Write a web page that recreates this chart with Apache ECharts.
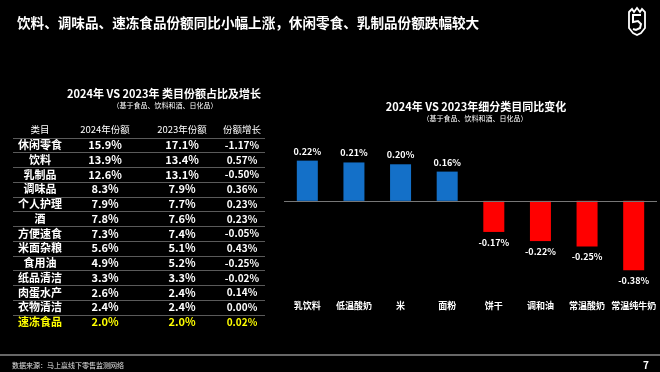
<!DOCTYPE html>
<html><head><meta charset="utf-8">
<script src="https://cdn.jsdelivr.net/npm/echarts@6/dist/echarts.min.js"></script>
<style>html,body{margin:0;padding:0;background:#000;}#c{width:660px;height:372px;}</style>
</head><body><div id="c"></div>
<script>
// ---- data ----
var barCategories = ['乳饮料','低温酸奶','米','面粉','饼干','调和油','常温酸奶','常温纯牛奶'];
var barValues = [0.22, 0.21, 0.20, 0.16, -0.17, -0.22, -0.25, -0.38];
var tableHeader = ['类目','2024年份额','2023年份额','份额增长'];
var tableCats = ['休闲零食','饮料','乳制品','调味品','个人护理','酒','方便速食','米面杂粮','食用油','纸品清洁','肉蛋水产','衣物清洁','速冻食品'];
var share2024 = ['15.9%','13.9%','12.6%','8.3%','7.9%','7.8%','7.3%','5.6%','4.9%','3.3%','2.6%','2.4%','2.0%'];
var share2023 = ['17.1%','13.4%','13.1%','7.9%','7.7%','7.6%','7.4%','5.1%','5.2%','3.3%','2.4%','2.4%','2.0%'];
var shareGrowth = ['-1.17%','0.57%','-0.50%','0.36%','0.23%','0.23%','-0.05%','0.43%','-0.25%','-0.02%','0.14%','0.00%','0.02%'];
var mainTitle = '饮料、调味品、速冻食品份额同比小幅上涨，休闲零食、乳制品份额跌幅较大';
var tableTitle = '2024年 VS 2023年 类目份额占比及增长';
var chartTitle = '2024年 VS 2023年细分类目同比变化';
var subTitle = '（基于食品、饮料和酒、日化品）';
var sourceText = '数据来源：马上赢线下零售监测网络';
var pageNo = '7';

var FONT = '"Noto Sans CJK SC","Noto Sans",sans-serif';
var chart = echarts.init(document.getElementById('c'), null, {renderer:'canvas'});

function txt(x, y, s, size, weight, color, align) {
  return {type:'text', x:x, y:y, silent:true, style:{text:s, fill:color||'#fff', font:(weight||'normal')+' '+size+'px '+FONT, align:align||'center', verticalAlign:'middle'}};
}

var g = [];
g.push(txt(17, 23, mainTitle, 13.6, 'bold', '#fff', 'left'));
// logo
g.push({type:'polygon', silent:true, shape:{points:[[629,12],[632,9],[634,12],[637,8],[640,12],[642,9],[645,12],[645,28],[641,33],[637,35],[633,33],[629,28]]}, style:{fill:'none', stroke:'#fff', lineWidth:1.8}});
g.push({type:'polyline', silent:true, shape:{points:[[641,15],[633,15],[633,22],[638,21],[641,24],[640,28],[636,30],[633,29]]}, style:{fill:'none', stroke:'#fff', lineWidth:2}});
// table
g.push(txt(164, 94, tableTitle, 11, 'bold'));
g.push(txt(165, 105, subTitle, 7, 'normal'));
var colX = [40, 105, 182, 242];
for (var c = 0; c < 4; c++) g.push(txt(colX[c], 129, tableHeader[c], 9.5, 'normal'));
var rowY0 = 145, rowH = 14.75;
for (var i = 0; i < tableCats.length; i++) {
  var y = rowY0 + i*rowH;
  var col = (i === tableCats.length-1) ? '#ffff00' : '#fff';
  var vals = [tableCats[i], share2024[i], share2023[i], shareGrowth[i]];
  var sizes = [11, 11, 11, 10];
  for (var c2 = 0; c2 < 4; c2++) g.push(txt(colX[c2], y, vals[c2], sizes[c2], 'bold', col));
}
for (var k = -1; k < tableCats.length-1; k++) {
  var ly = Math.round(rowY0 + k*rowH + 7.4) + 0.5;
  g.push({type:'line', silent:true, shape:{x1:13, y1:ly, x2:265, y2:ly}, style:{stroke:'#5a5a5a', lineWidth:1}});
}
// bar chart titles
g.push(txt(476, 107, chartTitle, 11, 'bold'));
g.push(txt(475, 118, subTitle, 7, 'normal'));
// footer
g.push({type:'line', silent:true, shape:{x1:0, y1:355, x2:660, y2:355}, style:{stroke:'#8a8a8a', lineWidth:1.5}});
g.push(txt(12, 365, sourceText, 7, 'normal', '#e0e0e0', 'left'));
g.push(txt(646, 365, pageNo, 10, 'bold', '#fff'));

var barData = barValues.map(function(v){
  return {
    value: v,
    itemStyle: {color: v >= 0 ? '#1470c8' : '#ff0000'},
    label: {position: v >= 0 ? 'top' : 'bottom', distance: v >= 0 ? 5 : 6}
  };
});

chart.setOption({
  backgroundColor: '#000',
  animation: false,
  textStyle: {fontFamily: FONT},
  grid: {left: 284, right: 3, top: 146, height: 128},
  xAxis: {
    type: 'category', data: barCategories,
    axisLine: {show: false}, axisTick: {show: false},
    axisLabel: {color: '#fff', fontSize: 9, fontWeight: 'bold', margin: 27, interval: 0}
  },
  yAxis: {type: 'value', min: -0.4, max: 0.3, show: false, splitLine: {show: false}},
  series: [{
    type: 'bar', data: barData, barWidth: 21,
    label: {show: true, color: '#fff', fontSize: 9, fontWeight: 'bold',
      formatter: function(p){ return p.value.toFixed(2) + '%'; }},
    markLine: {silent: true, symbol: 'none', label: {show: false},
      lineStyle: {color: '#777', width: 1, type: 'solid'},
      data: [{yAxis: 0}]}
  }],
  graphic: g
});
</script>
</body></html>
